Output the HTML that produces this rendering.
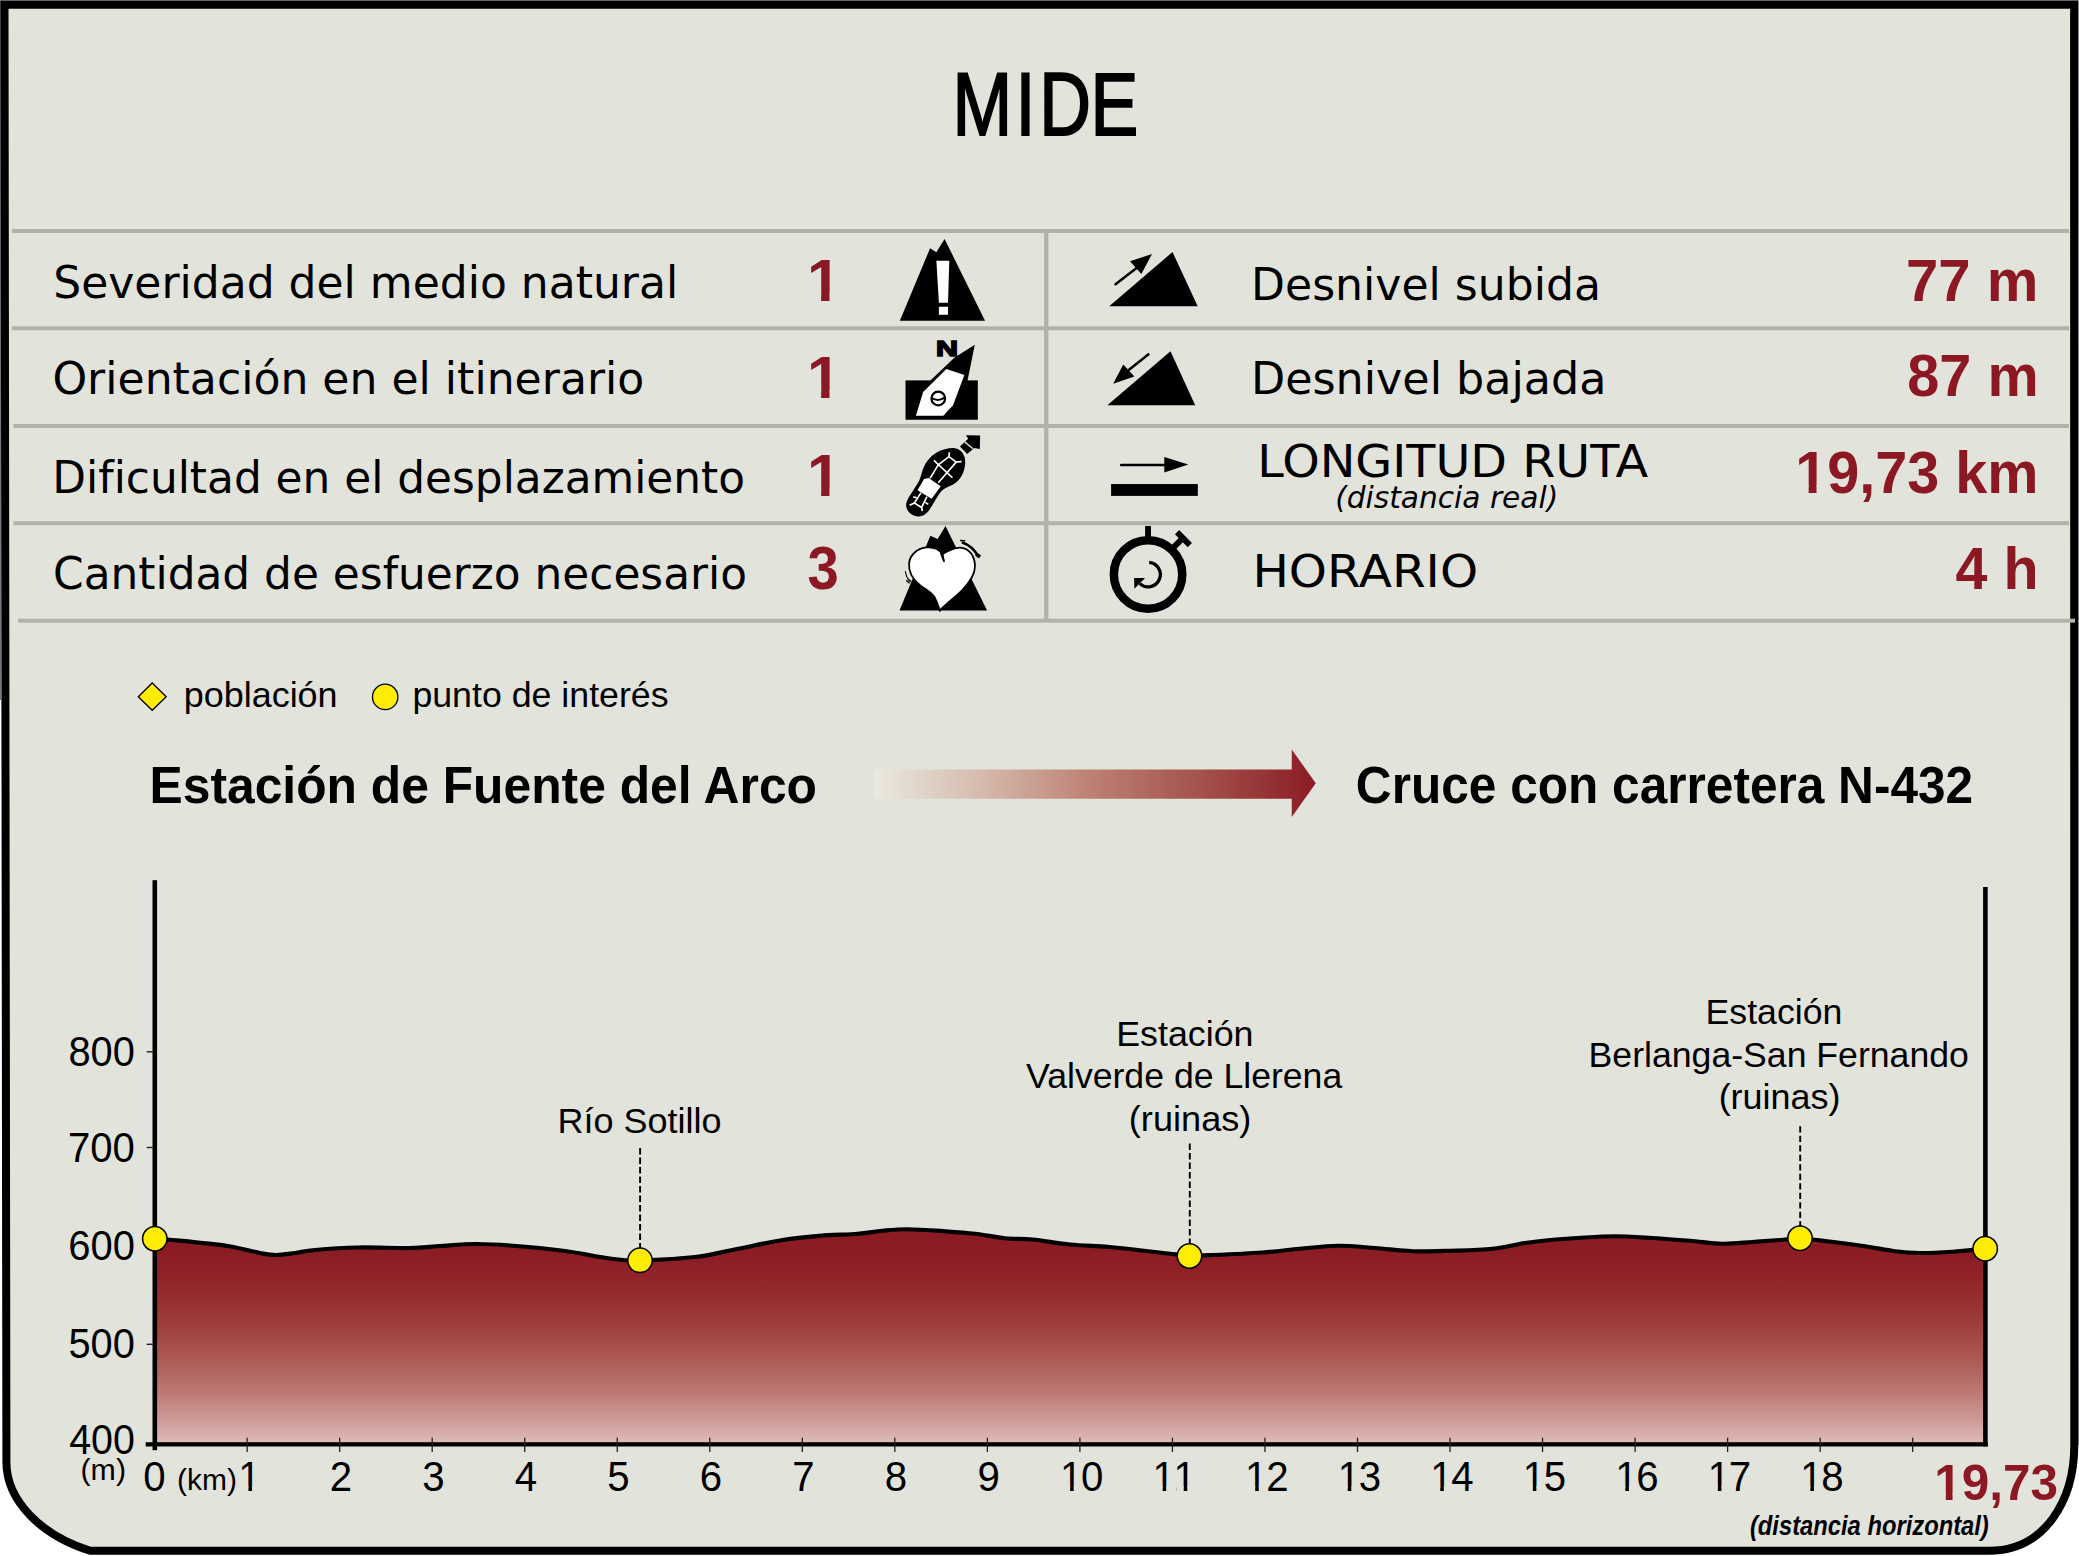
<!DOCTYPE html>
<html lang="es"><head><meta charset="utf-8"><title>MIDE</title>
<style>html,body{margin:0;padding:0;background:#fff}svg{display:block}text{white-space:pre}</style></head><body>
<svg width="2079" height="1556" viewBox="0 0 2079 1556">
<defs>
<linearGradient id="ga" x1="0" x2="1" y1="0" y2="0"><stop offset="0" stop-color="#EBE9DF"/><stop offset="0.25" stop-color="#D4B9AC"/><stop offset="0.5" stop-color="#BC7F71"/><stop offset="0.75" stop-color="#A2504A"/><stop offset="1" stop-color="#8B1B24"/></linearGradient>
<linearGradient id="gp" gradientUnits="userSpaceOnUse" x1="0" x2="0" y1="1250" y2="1444"><stop offset="0.0" stop-color="#8C1C24"/><stop offset="0.125" stop-color="#902228"/><stop offset="0.25" stop-color="#962E30"/><stop offset="0.375" stop-color="#9E3D3B"/><stop offset="0.5" stop-color="#A74F4B"/><stop offset="0.625" stop-color="#B2645F"/><stop offset="0.75" stop-color="#BF7D78"/><stop offset="0.875" stop-color="#CE9B97"/><stop offset="1.0" stop-color="#DFBBB9"/></linearGradient>
</defs>
<rect x="0" y="0" width="1" height="700" fill="#777"/><rect x="2078" y="0" width="1" height="1445" fill="#999"/><rect x="0" y="0" width="2079" height="1" fill="#888"/>
<path d="M4.5 4.85 L2074.1 4.85 L2074.3 1445 C2074.3 1500 2045 1550.8 1989 1550.8 L90.2 1550.8 C40 1535 6.4 1500 6.4 1462 Z" fill="#E2E3DB" stroke="#000" stroke-width="8" stroke-linejoin="miter"/>
<rect x="12" y="229" width="2057" height="4" fill="#B1B2AB"/>
<rect x="12" y="326.3" width="2057" height="4" fill="#B1B2AB"/>
<rect x="13.5" y="424" width="2055.5" height="4" fill="#B1B2AB"/>
<rect x="13.5" y="521.2" width="2055.5" height="4" fill="#B1B2AB"/>
<rect x="18" y="618.7" width="2057" height="4" fill="#B1B2AB"/>
<rect x="1044.1" y="231" width="4.3" height="389.6" fill="#B1B2AB"/>
<text transform="translate(0 135.2) scale(0.8 1)" x="1190.75 1269.46 1298.98 1363.2" y="0" style='font-family:"Liberation Sans",sans-serif;font-size:89.5px;fill:#000;stroke:#000;stroke-width:2px'>MIDE</text>
<text transform="translate(53.30 297.50) scale(1.0004 1)" style='font-family:"DejaVu Sans","Liberation Sans",sans-serif;font-size:44.0px;font-weight:normal;font-style:normal;fill:#000' >Severidad del medio natural</text>
<text transform="translate(52.39 393.90) scale(1.0026 1)" style='font-family:"DejaVu Sans","Liberation Sans",sans-serif;font-size:44.0px;font-weight:normal;font-style:normal;fill:#000' >Orientación en el itinerario</text>
<text transform="translate(52.37 493.00) scale(0.9959 1)" style='font-family:"DejaVu Sans","Liberation Sans",sans-serif;font-size:44.0px;font-weight:normal;font-style:normal;fill:#000' >Dificultad en el desplazamiento</text>
<text transform="translate(53.11 588.60) scale(0.9963 1)" style='font-family:"DejaVu Sans","Liberation Sans",sans-serif;font-size:44.0px;font-weight:normal;font-style:normal;fill:#000' >Cantidad de esfuerzo necesario</text>
<text transform="translate(806.94 301.00) scale(1.0188 1)" style='font-family:"Liberation Sans",sans-serif;font-size:59.93px;font-weight:bold;font-style:normal;fill:#8C1823' >1</text>
<rect x="808.77" y="293.51" width="12.37" height="8.49" fill="#E2E3DB"/>
<rect x="829.50" y="293.51" width="11.63" height="8.49" fill="#E2E3DB"/>
<text transform="translate(806.94 398.10) scale(1.0188 1)" style='font-family:"Liberation Sans",sans-serif;font-size:59.93px;font-weight:bold;font-style:normal;fill:#8C1823' >1</text>
<rect x="808.77" y="390.61" width="12.37" height="8.49" fill="#E2E3DB"/>
<rect x="829.50" y="390.61" width="11.63" height="8.49" fill="#E2E3DB"/>
<text transform="translate(806.94 496.30) scale(1.0188 1)" style='font-family:"Liberation Sans",sans-serif;font-size:59.93px;font-weight:bold;font-style:normal;fill:#8C1823' >1</text>
<rect x="808.77" y="488.81" width="12.37" height="8.49" fill="#E2E3DB"/>
<rect x="829.50" y="488.81" width="11.63" height="8.49" fill="#E2E3DB"/>
<text transform="translate(807.42 589.20) scale(0.9174 1)" style='font-family:"Liberation Sans",sans-serif;font-size:61.36px;font-weight:bold;font-style:normal;fill:#8C1823' >3</text>
<text transform="translate(1251.04 299.60) scale(1.0023 1)" style='font-family:"DejaVu Sans","Liberation Sans",sans-serif;font-size:44.0px;font-weight:normal;font-style:normal;fill:#000' >Desnivel subida</text>
<text transform="translate(1251.01 394.40) scale(1.0090 1)" style='font-family:"DejaVu Sans","Liberation Sans",sans-serif;font-size:44.0px;font-weight:normal;font-style:normal;fill:#000' >Desnivel bajada</text>
<text transform="translate(1257.27 477.40) scale(1.0675 1)" style='font-family:"DejaVu Sans","Liberation Sans",sans-serif;font-size:44.66px;font-weight:normal;font-style:normal;fill:#000' >LONGITUD RUTA</text>
<text transform="translate(1335.14 507.50) scale(1.0063 1)" style='font-family:"DejaVu Sans","Liberation Sans",sans-serif;font-size:29.47px;font-weight:normal;font-style:oblique;fill:#000' >(distancia real)</text>
<text transform="translate(1252.40 587.40) scale(1.0856 1)" style='font-family:"DejaVu Sans","Liberation Sans",sans-serif;font-size:44.66px;font-weight:normal;font-style:normal;fill:#000' >HORARIO</text>
<text transform="translate(1905.95 301.10) scale(0.9810 1)" style='font-family:"Liberation Sans",sans-serif;font-size:59.2px;font-weight:bold;font-style:normal;fill:#8C1823' >77 m</text>
<text transform="translate(1907.30 396.40) scale(0.9738 1)" style='font-family:"Liberation Sans",sans-serif;font-size:59.2px;font-weight:bold;font-style:normal;fill:#8C1823' >87 m</text>
<text transform="translate(1795.26 492.60) scale(0.9724 1)" style='font-family:"Liberation Sans",sans-serif;font-size:59.2px;font-weight:bold;font-style:normal;fill:#8C1823' >19,73 km</text>
<rect x="1796.98" y="485.20" width="11.66" height="8.40" fill="#E2E3DB"/>
<rect x="1816.53" y="485.20" width="10.96" height="8.40" fill="#E2E3DB"/>
<text transform="translate(1955.57 588.60) scale(0.9694 1)" style='font-family:"Liberation Sans",sans-serif;font-size:59.2px;font-weight:bold;font-style:normal;fill:#8C1823' >4 h</text>
<path d="M152.2 683 L166.2 696.7 L152.2 710.3 L138.3 696.7 Z" fill="#FFED00" stroke="#000" stroke-width="1.3"/>
<circle cx="385.2" cy="696.9" r="12.7" fill="#FFED00" stroke="#000" stroke-width="1.3"/>
<text transform="translate(183.67 706.70) scale(1.0347 1)" style='font-family:"Liberation Sans",sans-serif;font-size:34.76px;font-weight:normal;font-style:normal;fill:#000' >población</text>
<text transform="translate(412.39 706.70) scale(1.0280 1)" style='font-family:"Liberation Sans",sans-serif;font-size:34.76px;font-weight:normal;font-style:normal;fill:#000' >punto de interés</text>
<text transform="translate(149.50 803.00) scale(0.9696 1)" style='font-family:"Liberation Sans",sans-serif;font-size:51.35px;font-weight:bold;font-style:normal;fill:#000' >Estación de Fuente del Arco</text>
<text transform="translate(1355.86 802.90) scale(0.9656 1)" style='font-family:"Liberation Sans",sans-serif;font-size:51.35px;font-weight:bold;font-style:normal;fill:#000' >Cruce con carretera N-432</text>
<path d="M873.75 769.5 L1291.75 769.5 L1291.75 749.5 L1315.75 783.2 L1291.75 817 L1291.75 798.75 L873.75 798.75 Z" fill="url(#ga)"/>
<path d="M154.8 1238.75 C157.8 1238.96 160.4 1238.79 172.5 1240.00 C184.6 1241.21 212.9 1243.83 227.5 1246.00 C242.1 1248.17 251.9 1251.50 260.0 1253.00 C268.1 1254.50 270.2 1255.00 276.0 1255.00 C281.8 1255.00 288.5 1253.83 295.0 1253.00 C301.5 1252.17 304.6 1250.92 315.0 1250.00 C325.4 1249.08 341.7 1247.83 357.5 1247.50 C373.3 1247.17 396.2 1248.25 410.0 1248.00 C423.8 1247.75 429.2 1246.67 440.0 1246.00 C450.8 1245.33 463.3 1244.08 475.0 1244.00 C486.7 1243.92 495.0 1244.33 510.0 1245.50 C525.0 1246.67 548.3 1248.83 565.0 1251.00 C581.7 1253.17 597.5 1256.92 610.0 1258.50 C622.5 1260.08 625.8 1260.75 640.0 1260.50 C654.2 1260.25 679.6 1258.75 695.0 1257.00 C710.4 1255.25 717.9 1252.83 732.5 1250.00 C747.1 1247.17 767.9 1242.38 782.5 1240.00 C797.1 1237.62 807.5 1236.79 820.0 1235.75 C832.5 1234.71 847.1 1234.58 857.5 1233.75 C867.9 1232.92 874.2 1231.50 882.5 1230.75 C890.8 1230.00 897.1 1229.17 907.5 1229.25 C917.9 1229.33 933.8 1230.50 945.0 1231.25 C956.2 1232.00 965.0 1232.58 975.0 1233.75 C985.0 1234.92 995.4 1237.29 1005.0 1238.25 C1014.6 1239.21 1021.7 1238.46 1032.5 1239.50 C1043.3 1240.54 1057.5 1243.29 1070.0 1244.50 C1082.5 1245.71 1096.2 1245.83 1107.5 1246.75 C1118.8 1247.67 1127.1 1248.83 1137.5 1250.00 C1147.9 1251.17 1161.3 1252.83 1170.0 1253.75 C1178.7 1254.67 1182.4 1255.29 1189.5 1255.50 C1196.6 1255.71 1200.3 1255.50 1212.5 1255.00 C1224.7 1254.50 1247.9 1253.54 1262.5 1252.50 C1277.1 1251.46 1287.5 1249.88 1300.0 1248.75 C1312.5 1247.62 1325.0 1245.88 1337.5 1245.75 C1350.0 1245.62 1362.5 1247.08 1375.0 1248.00 C1387.5 1248.92 1400.0 1250.79 1412.5 1251.25 C1425.0 1251.71 1436.7 1251.17 1450.0 1250.75 C1463.3 1250.33 1480.0 1250.04 1492.5 1248.75 C1505.0 1247.46 1515.4 1244.46 1525.0 1243.00 C1534.6 1241.54 1541.2 1240.83 1550.0 1240.00 C1558.8 1239.17 1566.7 1238.62 1577.5 1238.00 C1588.3 1237.38 1602.5 1236.25 1615.0 1236.25 C1627.5 1236.25 1640.0 1237.25 1652.5 1238.00 C1665.0 1238.75 1678.3 1239.79 1690.0 1240.75 C1701.7 1241.71 1712.1 1243.54 1722.5 1243.75 C1732.9 1243.96 1742.9 1242.62 1752.5 1242.00 C1762.1 1241.38 1772.1 1240.58 1780.0 1240.00 C1787.9 1239.42 1792.1 1238.29 1800.0 1238.50 C1807.9 1238.71 1816.7 1239.96 1827.5 1241.25 C1838.3 1242.54 1853.8 1244.58 1865.0 1246.25 C1876.2 1247.92 1885.8 1250.12 1895.0 1251.25 C1904.2 1252.38 1910.4 1252.92 1920.0 1253.00 C1929.6 1253.08 1941.6 1252.46 1952.5 1251.75 C1963.4 1251.04 1979.9 1249.25 1985.4 1248.75 L1985.4 1444.3 L154.8 1444.3 Z" fill="url(#gp)"/>
<path d="M154.8 1238.75 C157.8 1238.96 160.4 1238.79 172.5 1240.00 C184.6 1241.21 212.9 1243.83 227.5 1246.00 C242.1 1248.17 251.9 1251.50 260.0 1253.00 C268.1 1254.50 270.2 1255.00 276.0 1255.00 C281.8 1255.00 288.5 1253.83 295.0 1253.00 C301.5 1252.17 304.6 1250.92 315.0 1250.00 C325.4 1249.08 341.7 1247.83 357.5 1247.50 C373.3 1247.17 396.2 1248.25 410.0 1248.00 C423.8 1247.75 429.2 1246.67 440.0 1246.00 C450.8 1245.33 463.3 1244.08 475.0 1244.00 C486.7 1243.92 495.0 1244.33 510.0 1245.50 C525.0 1246.67 548.3 1248.83 565.0 1251.00 C581.7 1253.17 597.5 1256.92 610.0 1258.50 C622.5 1260.08 625.8 1260.75 640.0 1260.50 C654.2 1260.25 679.6 1258.75 695.0 1257.00 C710.4 1255.25 717.9 1252.83 732.5 1250.00 C747.1 1247.17 767.9 1242.38 782.5 1240.00 C797.1 1237.62 807.5 1236.79 820.0 1235.75 C832.5 1234.71 847.1 1234.58 857.5 1233.75 C867.9 1232.92 874.2 1231.50 882.5 1230.75 C890.8 1230.00 897.1 1229.17 907.5 1229.25 C917.9 1229.33 933.8 1230.50 945.0 1231.25 C956.2 1232.00 965.0 1232.58 975.0 1233.75 C985.0 1234.92 995.4 1237.29 1005.0 1238.25 C1014.6 1239.21 1021.7 1238.46 1032.5 1239.50 C1043.3 1240.54 1057.5 1243.29 1070.0 1244.50 C1082.5 1245.71 1096.2 1245.83 1107.5 1246.75 C1118.8 1247.67 1127.1 1248.83 1137.5 1250.00 C1147.9 1251.17 1161.3 1252.83 1170.0 1253.75 C1178.7 1254.67 1182.4 1255.29 1189.5 1255.50 C1196.6 1255.71 1200.3 1255.50 1212.5 1255.00 C1224.7 1254.50 1247.9 1253.54 1262.5 1252.50 C1277.1 1251.46 1287.5 1249.88 1300.0 1248.75 C1312.5 1247.62 1325.0 1245.88 1337.5 1245.75 C1350.0 1245.62 1362.5 1247.08 1375.0 1248.00 C1387.5 1248.92 1400.0 1250.79 1412.5 1251.25 C1425.0 1251.71 1436.7 1251.17 1450.0 1250.75 C1463.3 1250.33 1480.0 1250.04 1492.5 1248.75 C1505.0 1247.46 1515.4 1244.46 1525.0 1243.00 C1534.6 1241.54 1541.2 1240.83 1550.0 1240.00 C1558.8 1239.17 1566.7 1238.62 1577.5 1238.00 C1588.3 1237.38 1602.5 1236.25 1615.0 1236.25 C1627.5 1236.25 1640.0 1237.25 1652.5 1238.00 C1665.0 1238.75 1678.3 1239.79 1690.0 1240.75 C1701.7 1241.71 1712.1 1243.54 1722.5 1243.75 C1732.9 1243.96 1742.9 1242.62 1752.5 1242.00 C1762.1 1241.38 1772.1 1240.58 1780.0 1240.00 C1787.9 1239.42 1792.1 1238.29 1800.0 1238.50 C1807.9 1238.71 1816.7 1239.96 1827.5 1241.25 C1838.3 1242.54 1853.8 1244.58 1865.0 1246.25 C1876.2 1247.92 1885.8 1250.12 1895.0 1251.25 C1904.2 1252.38 1910.4 1252.92 1920.0 1253.00 C1929.6 1253.08 1941.6 1252.46 1952.5 1251.75 C1963.4 1251.04 1979.9 1249.25 1985.4 1248.75" fill="none" stroke="#000" stroke-width="4.2" stroke-linejoin="round"/>
<rect x="152.5" y="880.2" width="4.6" height="570" fill="#000"/>
<rect x="1983.1" y="887" width="4.6" height="559.4" fill="#000"/>
<rect x="145.7" y="1442.2" width="1842" height="4.3" fill="#000"/>
<rect x="146.7" y="1051.1" width="7" height="1.4" fill="#222"/>
<rect x="146.7" y="1146.8" width="7" height="1.4" fill="#222"/>
<rect x="146.7" y="1343.6" width="7" height="1.4" fill="#222"/>
<rect x="246.48" y="1437.7" width="1.3" height="14.3" fill="#222"/>
<rect x="339.01" y="1437.7" width="1.3" height="14.3" fill="#222"/>
<rect x="431.54" y="1437.7" width="1.3" height="14.3" fill="#222"/>
<rect x="524.07" y="1437.7" width="1.3" height="14.3" fill="#222"/>
<rect x="616.60" y="1437.7" width="1.3" height="14.3" fill="#222"/>
<rect x="709.13" y="1437.7" width="1.3" height="14.3" fill="#222"/>
<rect x="801.66" y="1437.7" width="1.3" height="14.3" fill="#222"/>
<rect x="894.19" y="1437.7" width="1.3" height="14.3" fill="#222"/>
<rect x="986.72" y="1437.7" width="1.3" height="14.3" fill="#222"/>
<rect x="1079.25" y="1437.7" width="1.3" height="14.3" fill="#222"/>
<rect x="1171.78" y="1437.7" width="1.3" height="14.3" fill="#222"/>
<rect x="1264.31" y="1437.7" width="1.3" height="14.3" fill="#222"/>
<rect x="1356.84" y="1437.7" width="1.3" height="14.3" fill="#222"/>
<rect x="1449.37" y="1437.7" width="1.3" height="14.3" fill="#222"/>
<rect x="1541.90" y="1437.7" width="1.3" height="14.3" fill="#222"/>
<rect x="1634.43" y="1437.7" width="1.3" height="14.3" fill="#222"/>
<rect x="1726.96" y="1437.7" width="1.3" height="14.3" fill="#222"/>
<rect x="1819.49" y="1437.7" width="1.3" height="14.3" fill="#222"/>
<rect x="1912.02" y="1437.7" width="1.3" height="14.3" fill="#222"/>
<text transform="translate(68.44 1065.80) scale(0.9481 1)" style='font-family:"Liberation Sans",sans-serif;font-size:42.01px;font-weight:normal;font-style:normal;fill:#000' >800</text>
<text transform="translate(67.95 1162.10) scale(0.9552 1)" style='font-family:"Liberation Sans",sans-serif;font-size:42.01px;font-weight:normal;font-style:normal;fill:#000' >700</text>
<text transform="translate(68.20 1259.70) scale(0.9517 1)" style='font-family:"Liberation Sans",sans-serif;font-size:42.01px;font-weight:normal;font-style:normal;fill:#000' >600</text>
<text transform="translate(68.44 1357.60) scale(0.9481 1)" style='font-family:"Liberation Sans",sans-serif;font-size:42.01px;font-weight:normal;font-style:normal;fill:#000' >500</text>
<text transform="translate(69.16 1454.00) scale(0.9376 1)" style='font-family:"Liberation Sans",sans-serif;font-size:42.01px;font-weight:normal;font-style:normal;fill:#000' >400</text>
<text transform="translate(80.48 1480.20) scale(1.0389 1)" style='font-family:"Liberation Sans",sans-serif;font-size:29.24px;font-weight:normal;font-style:normal;fill:#000' >(m)</text>
<text transform="translate(143.22 1490.8) scale(0.935 1)" x="0" y="0" style='font-family:"Liberation Sans",sans-serif;font-size:43.0px;fill:#000'>0</text>
<text transform="translate(238.35 1490.8) scale(0.935 1)" x="0" y="0" style='font-family:"Liberation Sans",sans-serif;font-size:43.0px;fill:#000'>1</text>
<rect x="239.96" y="1486.28" width="8.49" height="5.51" fill="#E2E3DB"/>
<rect x="252.02" y="1486.28" width="8.04" height="5.51" fill="#E2E3DB"/>
<text transform="translate(329.68 1490.8) scale(0.935 1)" x="0" y="0" style='font-family:"Liberation Sans",sans-serif;font-size:43.0px;fill:#000'>2</text>
<text transform="translate(422.21 1490.8) scale(0.935 1)" x="0" y="0" style='font-family:"Liberation Sans",sans-serif;font-size:43.0px;fill:#000'>3</text>
<text transform="translate(514.74 1490.8) scale(0.935 1)" x="0" y="0" style='font-family:"Liberation Sans",sans-serif;font-size:43.0px;fill:#000'>4</text>
<text transform="translate(607.27 1490.8) scale(0.935 1)" x="0" y="0" style='font-family:"Liberation Sans",sans-serif;font-size:43.0px;fill:#000'>5</text>
<text transform="translate(699.80 1490.8) scale(0.935 1)" x="0" y="0" style='font-family:"Liberation Sans",sans-serif;font-size:43.0px;fill:#000'>6</text>
<text transform="translate(792.33 1490.8) scale(0.935 1)" x="0" y="0" style='font-family:"Liberation Sans",sans-serif;font-size:43.0px;fill:#000'>7</text>
<text transform="translate(884.86 1490.8) scale(0.935 1)" x="0" y="0" style='font-family:"Liberation Sans",sans-serif;font-size:43.0px;fill:#000'>8</text>
<text transform="translate(977.39 1490.8) scale(0.935 1)" x="0" y="0" style='font-family:"Liberation Sans",sans-serif;font-size:43.0px;fill:#000'>9</text>
<text transform="translate(1058.74 1490.8) scale(0.935 1)" x="1.39 23.92" y="0" style='font-family:"Liberation Sans",sans-serif;font-size:43.0px;fill:#000'>10</text>
<rect x="1061.65" y="1486.28" width="8.49" height="5.51" fill="#E2E3DB"/>
<rect x="1073.71" y="1486.28" width="8.04" height="5.51" fill="#E2E3DB"/>
<text transform="translate(1151.27 1490.8) scale(0.935 1)" x="1.39 23.92" y="0" style='font-family:"Liberation Sans",sans-serif;font-size:43.0px;fill:#000'>11</text>
<rect x="1154.18" y="1486.28" width="8.49" height="5.51" fill="#E2E3DB"/>
<rect x="1166.24" y="1486.28" width="8.04" height="5.51" fill="#E2E3DB"/>
<rect x="1176.44" y="1486.28" width="7.29" height="5.51" fill="#E2E3DB"/>
<rect x="1187.30" y="1486.28" width="8.24" height="5.51" fill="#E2E3DB"/>
<text transform="translate(1243.80 1490.8) scale(0.935 1)" x="1.39 23.92" y="0" style='font-family:"Liberation Sans",sans-serif;font-size:43.0px;fill:#000'>12</text>
<rect x="1246.71" y="1486.28" width="8.49" height="5.51" fill="#E2E3DB"/>
<rect x="1258.77" y="1486.28" width="8.04" height="5.51" fill="#E2E3DB"/>
<text transform="translate(1336.33 1490.8) scale(0.935 1)" x="1.39 23.92" y="0" style='font-family:"Liberation Sans",sans-serif;font-size:43.0px;fill:#000'>13</text>
<rect x="1339.24" y="1486.28" width="8.49" height="5.51" fill="#E2E3DB"/>
<rect x="1351.30" y="1486.28" width="8.04" height="5.51" fill="#E2E3DB"/>
<text transform="translate(1428.86 1490.8) scale(0.935 1)" x="1.39 23.92" y="0" style='font-family:"Liberation Sans",sans-serif;font-size:43.0px;fill:#000'>14</text>
<rect x="1431.77" y="1486.28" width="8.49" height="5.51" fill="#E2E3DB"/>
<rect x="1443.83" y="1486.28" width="8.04" height="5.51" fill="#E2E3DB"/>
<text transform="translate(1521.39 1490.8) scale(0.935 1)" x="1.39 23.92" y="0" style='font-family:"Liberation Sans",sans-serif;font-size:43.0px;fill:#000'>15</text>
<rect x="1524.30" y="1486.28" width="8.49" height="5.51" fill="#E2E3DB"/>
<rect x="1536.36" y="1486.28" width="8.04" height="5.51" fill="#E2E3DB"/>
<text transform="translate(1613.92 1490.8) scale(0.935 1)" x="1.39 23.92" y="0" style='font-family:"Liberation Sans",sans-serif;font-size:43.0px;fill:#000'>16</text>
<rect x="1616.83" y="1486.28" width="8.49" height="5.51" fill="#E2E3DB"/>
<rect x="1628.89" y="1486.28" width="8.04" height="5.51" fill="#E2E3DB"/>
<text transform="translate(1706.45 1490.8) scale(0.935 1)" x="1.39 23.92" y="0" style='font-family:"Liberation Sans",sans-serif;font-size:43.0px;fill:#000'>17</text>
<rect x="1709.36" y="1486.28" width="8.49" height="5.51" fill="#E2E3DB"/>
<rect x="1721.42" y="1486.28" width="8.04" height="5.51" fill="#E2E3DB"/>
<text transform="translate(1798.98 1490.8) scale(0.935 1)" x="1.39 23.92" y="0" style='font-family:"Liberation Sans",sans-serif;font-size:43.0px;fill:#000'>18</text>
<rect x="1801.89" y="1486.28" width="8.49" height="5.51" fill="#E2E3DB"/>
<rect x="1813.95" y="1486.28" width="8.04" height="5.51" fill="#E2E3DB"/>
<text transform="translate(177.08 1490.20) scale(1.0397 1)" style='font-family:"Liberation Sans",sans-serif;font-size:28.83px;font-weight:normal;font-style:normal;fill:#000' >(km)</text>
<text transform="translate(1934.30 1499.60) scale(0.9823 1)" style='font-family:"Liberation Sans",sans-serif;font-size:50.33px;font-weight:bold;font-style:normal;fill:#8C1823' >19,73</text>
<rect x="1935.79" y="1493.31" width="10.02" height="7.29" fill="#E2E3DB"/>
<rect x="1952.57" y="1493.31" width="9.41" height="7.29" fill="#E2E3DB"/>
<text transform="translate(1749.95 1535.30) scale(0.8486 1)" style='font-family:"Liberation Sans",sans-serif;font-size:28.0px;font-weight:bold;font-style:italic;fill:#000' >(distancia horizontal)</text>
<text transform="translate(557.48 1132.90) scale(1.0100 1)" style='font-family:"Liberation Sans",sans-serif;font-size:35.64px;font-weight:normal;font-style:normal;fill:#000' >Río Sotillo</text>
<text transform="translate(1116.19 1045.80) scale(1.0050 1)" style='font-family:"Liberation Sans",sans-serif;font-size:35.64px;font-weight:normal;font-style:normal;fill:#000' >Estación</text>
<text transform="translate(1026.05 1088.10) scale(0.9998 1)" style='font-family:"Liberation Sans",sans-serif;font-size:35.64px;font-weight:normal;font-style:normal;fill:#000' >Valverde de Llerena</text>
<text transform="translate(1128.82 1130.90) scale(1.0147 1)" style='font-family:"Liberation Sans",sans-serif;font-size:35.64px;font-weight:normal;font-style:normal;fill:#000' >(ruinas)</text>
<text transform="translate(1705.51 1024.20) scale(1.0012 1)" style='font-family:"Liberation Sans",sans-serif;font-size:35.64px;font-weight:normal;font-style:normal;fill:#000' >Estación</text>
<text transform="translate(1588.61 1066.60) scale(0.9998 1)" style='font-family:"Liberation Sans",sans-serif;font-size:35.64px;font-weight:normal;font-style:normal;fill:#000' >Berlanga-San Fernando</text>
<text transform="translate(1718.64 1108.60) scale(1.0095 1)" style='font-family:"Liberation Sans",sans-serif;font-size:35.64px;font-weight:normal;font-style:normal;fill:#000' >(ruinas)</text>
<line x1="640.1" y1="1148.1" x2="640.1" y2="1249" stroke="#000" stroke-width="1.9" stroke-dasharray="6.3 3.2"/>
<line x1="1189.8" y1="1143.6" x2="1189.8" y2="1244.5" stroke="#000" stroke-width="1.9" stroke-dasharray="6.3 3.2"/>
<line x1="1800.2" y1="1126.3" x2="1800.2" y2="1227" stroke="#000" stroke-width="1.9" stroke-dasharray="6.3 3.2"/>
<circle cx="154.8" cy="1238.75" r="12.2" fill="#FFED00" stroke="#000" stroke-width="1.5"/>
<circle cx="640" cy="1260.3" r="12.2" fill="#FFED00" stroke="#000" stroke-width="1.5"/>
<circle cx="1189.5" cy="1256" r="12.2" fill="#FFED00" stroke="#000" stroke-width="1.5"/>
<circle cx="1800" cy="1238.25" r="12.2" fill="#FFED00" stroke="#000" stroke-width="1.5"/>
<circle cx="1985.2" cy="1248.75" r="12.2" fill="#FFED00" stroke="#000" stroke-width="1.5"/>
<g transform="translate(880 232) scale(0.062984)"><path d="M315 1410 L795 258 L895 320 L1025 110 L1668 1410 Z" fill="#000"/><path d="M895 458 L1100 458 L1080 1125 L935 1125 Z M935 1185 H1080 V1315 H935 Z" fill="#fff"/></g>
<g transform="translate(880 330) scale(0.062984)"><rect x="405" y="800" width="1148" height="625" fill="#000"/><path d="M1505 235 L1180 440 L800 800 L560 1380 L1100 1380 L1390 800 Z" fill="#000"/><path d="M1055 620 L1340 715 L1160 1195 L1005 1362 L570 1362 L685 985 Z" fill="#fff"/><circle cx="925" cy="1087" r="108" fill="none" stroke="#000" stroke-width="36"/><path d="M815 1075 Q925 1150 1035 1068" fill="none" stroke="#000" stroke-width="30"/><text x="890" y="413" style='font-family:"Liberation Sans",sans-serif;font-weight:bold;font-size:350px;fill:#000;stroke:#000;stroke-width:24px' transform="translate(890 413) scale(1.38 1) translate(-890 -413)">N</text></g>
<g transform="translate(880 428) scale(0.062984)"><path d="M1180 320 C1260 325 1320 380 1345 470 C1365 560 1345 680 1290 770 C1240 850 1170 900 1100 925 C1040 950 1000 970 960 1020 C900 1100 850 1200 790 1290 C750 1350 700 1400 610 1405 C520 1405 440 1340 418 1260 C405 1200 430 1140 470 1080 C520 1000 580 910 620 840 C650 780 655 720 690 630 C730 540 790 460 880 400 C980 340 1100 315 1180 320 Z" fill="#000"/><path d="M1268 292 L1385 412 L1495 318 L1585 335 L1590 120 L1365 115 L1400 170 Z" fill="#000"/><path d="M1345 220 L1475 330" stroke="#E2E3DB" stroke-width="22" fill="none"/><path d="M700 810 L770 795 L965 925 L820 1125 L595 990 Z" fill="#fff"/><g fill="none" stroke="#fff" stroke-width="26" stroke-linecap="butt"><path d="M795 800 L925 585 L1095 455 L1210 540 L925 870"/><path d="M855 515 L1150 790"/><path d="M1095 455 L1100 385"/><path d="M1210 540 L1295 533"/><path d="M650 1030 L545 1190 L660 1262 L745 1090"/><path d="M545 1190 L470 1228"/><path d="M660 1262 L672 1320"/><path d="M525 1095 L582 1105"/><path d="M720 1180 L767 1212"/></g></g>
<g transform="translate(880 524) scale(0.062984)"><path d="M310 1375 L800 185 L915 240 L1040 30 L1700 1375 Z" fill="#000"/><path d="M990 480 C940 400 850 365 740 372 C600 385 480 480 462 620 C450 760 520 880 640 975 C740 1050 820 1090 860 1150 C900 1220 925 1300 950 1372 C1010 1310 1100 1230 1200 1150 C1330 1040 1450 900 1495 760 C1530 620 1490 470 1370 400 C1290 355 1200 370 1100 420 C1050 445 1010 465 990 480 Z" fill="#fff" stroke="#000" stroke-width="28" stroke-linejoin="round"/><path d="M950 465 L1005 470 L1032 598 L1008 606 Z" fill="#000"/><path d="M1300 290 C1420 330 1500 400 1565 525" fill="none" stroke="#000" stroke-width="40"/><path d="M1525 480 L1590 520" stroke="#000" stroke-width="55" fill="none"/><path d="M1272 262 L1352 266" stroke="#000" stroke-width="22" fill="none"/><path d="M402 750 C410 810 425 850 450 880" fill="none" stroke="#000" stroke-width="18"/><path d="M418 895 L470 940 M445 875 L492 915" stroke="#000" stroke-width="22" fill="none"/><path d="M930 1360 L950 1400 L975 1360 Z" fill="#000"/></g>
<g transform="translate(1090 232) scale(0.062984)"><path d="M305 1180 L1710 1180 L1310 318 Z" fill="#000"/><path d="M405 828 L760 555" stroke="#000" stroke-width="40" stroke-linecap="round" fill="none"/><path d="M985 350 L635 465 L815 665 Z" fill="#000"/></g>
<g transform="translate(1090 330) scale(0.062984)"><path d="M275 1195 L1670 1195 L1278 338 Z" fill="#000"/><path d="M940 378 L600 648" stroke="#000" stroke-width="40" stroke-linecap="butt" fill="none"/><path d="M368 852 L528 548 L705 740 Z" fill="#000"/></g>
<g transform="translate(1090 428) scale(0.062984)"><rect x="335" y="890" width="1377" height="188" fill="#000"/><path d="M495 588 L1200 588" stroke="#000" stroke-width="40" stroke-linecap="round" fill="none"/><path d="M1180 460 L1180 705 L1560 580 Z" fill="#000"/></g>
<g transform="translate(1090 520) scale(0.062984)"><circle cx="922" cy="865" r="543" fill="none" stroke="#000" stroke-width="135"/><rect x="875" y="95" width="93" height="200" fill="#000"/><path d="M1330 430 L1450 310" stroke="#000" stroke-width="95" fill="none"/><path d="M1382 192 L1585 398" stroke="#000" stroke-width="95" fill="none"/><path d="M940 672 A195 195 0 1 1 790 1010" fill="none" stroke="#000" stroke-width="52"/><path d="M700 920 L875 922 L705 1092 Z" fill="#000"/></g>
</svg></body></html>
